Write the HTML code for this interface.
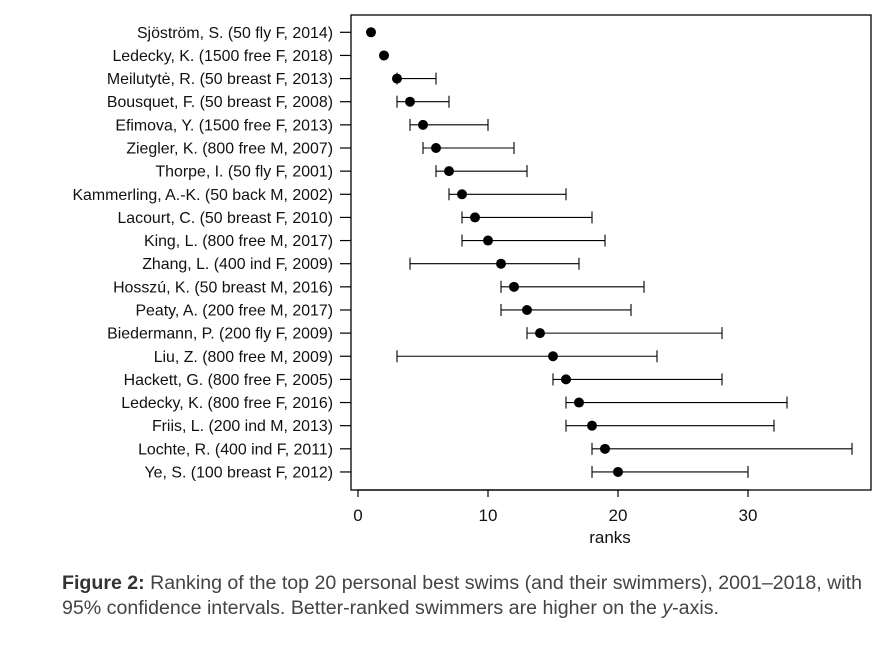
<!DOCTYPE html>
<html><head><meta charset="utf-8"><style>
html,body{margin:0;padding:0;background:#fff;}
svg{display:block;}
</style></head><body>
<svg width="892" height="646" viewBox="0 0 892 646" xmlns="http://www.w3.org/2000/svg" font-family="Liberation Sans, sans-serif">
<rect x="351" y="15" width="520" height="475" fill="none" stroke="#000" stroke-width="1.3"/>
<g stroke="#000" stroke-width="1.2">
<line x1="358" y1="490" x2="748" y2="490"/>
<line x1="358" y1="490" x2="358" y2="497"/>
<line x1="488" y1="490" x2="488" y2="497"/>
<line x1="618" y1="490" x2="618" y2="497"/>
<line x1="748" y1="490" x2="748" y2="497"/>
</g>
<g font-size="17" text-anchor="middle" fill="#111">
<text x="358" y="521">0</text><text x="488" y="521">10</text><text x="618" y="521">20</text><text x="748" y="521">30</text>
<text x="610" y="543">ranks</text>
</g>
<g id="rows" font-size="15.9" fill="#111" text-anchor="end"></g>
<g font-size="19" fill="#444">
<text x="62" y="589" textLength="800" lengthAdjust="spacingAndGlyphs"><tspan font-weight="bold" fill="#333">Figure 2:</tspan> Ranking of the top 20 personal best swims (and their swimmers), 2001–2018, with</text>
<text x="62" y="614" textLength="657" lengthAdjust="spacingAndGlyphs">95% confidence intervals. Better-ranked swimmers are higher on the <tspan font-style="italic">y</tspan>-axis.</text>
</g>
<g id="plot"></g>
</svg>
<script>
var names=["Sjöström, S. (50 fly F, 2014)","Ledecky, K. (1500 free F, 2018)","Meilutytė, R. (50 breast F, 2013)","Bousquet, F. (50 breast F, 2008)","Efimova, Y. (1500 free F, 2013)","Ziegler, K. (800 free M, 2007)","Thorpe, I. (50 fly F, 2001)","Kammerling, A.-K. (50 back M, 2002)","Lacourt, C. (50 breast F, 2010)","King, L. (800 free M, 2017)","Zhang, L. (400 ind F, 2009)","Hosszú, K. (50 breast M, 2016)","Peaty, A. (200 free M, 2017)","Biedermann, P. (200 fly F, 2009)","Liu, Z. (800 free M, 2009)","Hackett, G. (800 free F, 2005)","Ledecky, K. (800 free F, 2016)","Friis, L. (200 ind M, 2013)","Lochte, R. (400 ind F, 2011)","Ye, S. (100 breast F, 2012)"];
var ci=[null,null,[3,6],[3,7],[4,10],[5,12],[6,13],[7,16],[8,18],[8,19],[4,17],[11,22],[11,21],[13,28],[3,23],[15,28],[16,33],[16,32],[18,38],[18,30]];
var ns="http://www.w3.org/2000/svg";
function X(r){return 358+13*r;}
var rows=document.getElementById("rows"),plot=document.getElementById("plot");
function el(p,t,a){var e=document.createElementNS(ns,t);for(var k in a)e.setAttribute(k,a[k]);p.appendChild(e);return e;}
for(var i=0;i<20;i++){
 var y=32.3+23.14*i;
 var t=el(rows,"text",{x:333,y:y+5.5});t.textContent=names[i];
 el(plot,"line",{x1:340,y1:y,x2:351,y2:y,stroke:"#000","stroke-width":1.2});
 if(ci[i]){var a=X(ci[i][0]),b=X(ci[i][1]);
  el(plot,"line",{x1:a,y1:y,x2:b,y2:y,stroke:"#000","stroke-width":1.1});
  el(plot,"line",{x1:a,y1:y-6,x2:a,y2:y+6,stroke:"#000","stroke-width":1.1});
  el(plot,"line",{x1:b,y1:y-6,x2:b,y2:y+6,stroke:"#000","stroke-width":1.1});}
 el(plot,"circle",{cx:X(i+1),cy:y,r:5,fill:"#000"});
}
</script>
</body></html>
